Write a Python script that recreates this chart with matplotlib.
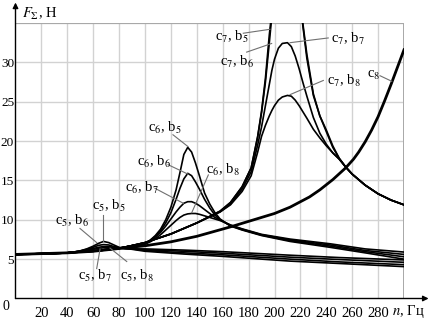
import matplotlib
matplotlib.use("Agg")
from matplotlib import pyplot as plt

plt.rcParams["font.family"] = ["Liberation Serif", "DejaVu Serif"]
plt.rcParams["mathtext.fontset"] = "stix"

# --- data: n [Hz] -> F [N] ---
n_c5 = [0, 20, 30, 40, 45, 50, 55, 60, 64, 68, 72, 76, 80, 85, 90, 100, 130, 160, 212, 250, 300]
f_c5b5 = [5.6, 5.65, 5.7, 5.8, 5.9, 6.05, 6.3, 6.65, 7.0, 7.25, 7.1, 6.8, 6.5, 6.35, 6.25, 6.0, 5.65, 5.35, 4.75, 4.45, 4.05]
f_c5b6 = [5.6, 5.65, 5.7, 5.8, 5.9, 6.05, 6.25, 6.5, 6.75, 6.85, 6.8, 6.6, 6.45, 6.35, 6.3, 6.1, 5.8, 5.55, 5.0, 4.65, 4.3]
f_c5b7 = [5.6, 5.65, 5.7, 5.8, 5.9, 6.0, 6.2, 6.35, 6.5, 6.6, 6.6, 6.5, 6.4, 6.35, 6.3, 6.2, 6.0, 5.75, 5.25, 4.95, 4.6]
f_c5b8 = [5.6, 5.65, 5.7, 5.8, 5.9, 6.0, 6.15, 6.25, 6.35, 6.45, 6.45, 6.45, 6.4, 6.35, 6.3, 6.3, 6.15, 5.95, 5.5, 5.2, 4.9]

n_c6 = [0, 40, 60, 80, 90, 100, 104, 108, 112, 116, 120, 124, 127, 130, 133, 136, 139, 142, 146, 150, 154, 158, 166, 175, 190, 212, 243, 270, 300]
f_c6b5 = [5.6, 5.8, 6.05, 6.4, 6.7, 7.0, 7.4, 8.0, 8.8, 10.0, 11.6, 13.8, 16.0, 18.3, 19.2, 18.6, 17.2, 15.6, 13.4, 12.0, 10.9, 10.1, 9.2, 8.7, 8.0, 7.25, 6.5, 5.8, 5.0]
f_c6b6 = [5.6, 5.8, 6.05, 6.4, 6.7, 7.0, 7.4, 7.9, 8.6, 9.6, 10.9, 12.6, 14.0, 15.2, 15.9, 15.6, 14.8, 13.9, 12.6, 11.5, 10.6, 10.0, 9.25, 8.75, 8.05, 7.35, 6.65, 5.95, 5.3]
f_c6b7 = [5.6, 5.8, 6.05, 6.4, 6.7, 6.95, 7.3, 7.8, 8.4, 9.2, 10.1, 11.0, 11.6, 12.1, 12.3, 12.3, 12.1, 11.8, 11.3, 10.8, 10.3, 10.0, 9.3, 8.8, 8.1, 7.45, 6.8, 6.1, 5.6]
f_c6b8 = [5.6, 5.8, 6.05, 6.4, 6.7, 6.9, 7.2, 7.6, 8.1, 8.7, 9.3, 9.9, 10.3, 10.6, 10.75, 10.8, 10.8, 10.7, 10.5, 10.3, 10.1, 9.9, 9.35, 8.85, 8.15, 7.55, 6.95, 6.3, 5.9]

n_c7 = [0, 40, 60, 80, 100, 120, 140, 158, 166, 175, 182, 187, 190, 193, 196, 198, 200, 203, 206, 210, 213, 216, 219, 222, 225, 230, 235, 240, 245, 250, 255, 260, 270, 280, 290, 300]
f_c7b5 = [5.6, 5.8, 6.0, 6.35, 7.1, 8.2, 9.6, 11.1, 12.2, 14.2, 16.6, 20.5, 23.6, 27.5, 32.5, 36, 40, 46, 52, 56, 52, 45, 39, 34.5, 30.5, 25.8, 23.2, 21.4, 19.4, 17.8, 16.7, 15.8, 14.4, 13.3, 12.5, 11.9]
f_c7b6 = [5.6, 5.8, 6.0, 6.35, 7.1, 8.2, 9.6, 11.1, 12.2, 14.2, 16.6, 20.6, 23.8, 28.0, 33.5, 36.5, 39, 42, 44, 45, 43.5, 41, 38, 34.8, 31.0, 26.0, 23.2, 21.2, 19.2, 17.8, 16.7, 15.8, 14.4, 13.3, 12.5, 11.9]
f_c7b7 = [5.6, 5.8, 6.0, 6.35, 7.1, 8.2, 9.6, 11.0, 12.0, 13.9, 16.1, 19.5, 21.8, 24.5, 27.2, 29.0, 30.4, 31.8, 32.4, 32.5, 32.0, 30.8, 29.2, 27.4, 25.7, 23.0, 21.0, 19.6, 18.5, 17.7, 16.7, 15.8, 14.4, 13.3, 12.5, 11.9]
f_c7b8 = [5.6, 5.8, 6.0, 6.35, 7.1, 8.2, 9.6, 11.0, 11.9, 13.6, 15.6, 18.6, 20.6, 22.0, 23.2, 23.9, 24.5, 25.2, 25.6, 25.8, 25.7, 25.2, 24.5, 23.7, 22.9, 21.5, 20.4, 19.4, 18.5, 17.7, 16.7, 15.8, 14.4, 13.3, 12.5, 11.9]

n_c8 = [0, 40, 60, 80, 100, 120, 140, 166, 180, 200, 212, 227, 235, 245, 255, 261, 265, 270, 275, 280, 285, 290, 295, 300]
f_c8 = [5.6, 5.8, 6.0, 6.35, 6.7, 7.2, 7.9, 9.1, 9.8, 10.8, 11.6, 12.9, 13.8, 15.1, 16.6, 17.7, 18.6, 19.9, 21.4, 23.1, 25.1, 27.2, 29.4, 31.6]

# curve labels: text, label position, leader start, leader end
labels = [
    (r"c$_5$, b$_5$", (59, 11.8), (67.8, 10.6), (67.8, 7.3)),
    (r"c$_5$, b$_6$", (30.5, 9.9), (49.8, 8.9), (62.7, 7.1)),
    (r"c$_5$, b$_7$", (48.3, 2.9), (62.7, 3.8), (65.3, 6.3)),
    (r"c$_5$, b$_8$", (80.7, 2.9), (85.9, 4.7), (73, 6.4)),
    (r"c$_6$, b$_5$", (102.3, 21.7), (121.6, 20.8), (133.2, 19.3)),
    (r"c$_6$, b$_6$", (93.8, 17.4), (117.8, 17.0), (133.2, 15.8)),
    (r"c$_6$, b$_7$", (84.6, 14.1), (107.7, 14.0), (129.6, 12.1)),
    (r"c$_6$, b$_8$", (147.1, 16.3), (148.9, 15.7), (136.1, 10.9)),
    (r"c$_7$, b$_5$", (154, 33.2), (175.9, 33.7), (196.5, 34.2)),
    (r"c$_7$, b$_6$", (158, 30.1), (178.5, 31.3), (197.8, 32.4)),
    (r"c$_7$, b$_7$", (243.6, 33.0), (241.5, 33.1), (212, 32.5)),
    (r"c$_7$, b$_8$", (240.5, 27.7), (237.7, 27.7), (212, 25.9)),
    (r"c$_8$", (271.4, 28.3), (281.5, 28.3), (290.5, 27.6)),
]

fig = plt.figure(figsize=(4.31, 3.19), dpi=100)
ax = fig.add_axes([15.5 / 431, 20.5 / 319, 388.5 / 431, 275.5 / 319])
ax.set_xlim(0, 300)
ax.set_ylim(0, 35)
for s in ax.spines.values():
    s.set_visible(False)

# grid
for x in range(20, 300, 20):
    ax.axvline(x, color="#d2d2d2", lw=1.0, zorder=0)
for y in range(5, 35, 5):
    ax.axhline(y, color="#d2d2d2", lw=1.0, zorder=0)
ax.axvline(300, color="#a8a8a8", lw=1.4, zorder=0)
ax.axhline(35, color="#a8a8a8", lw=1.6, zorder=0)

# curves
for f in [f_c5b5, f_c5b6, f_c5b7, f_c5b8]:
    ax.plot(n_c5, f, color="black", lw=1.2)
for f in [f_c6b5, f_c6b6, f_c6b7, f_c6b8]:
    ax.plot(n_c6, f, color="black", lw=1.2)
for f in [f_c7b5, f_c7b6, f_c7b7, f_c7b8]:
    ax.plot(n_c7, f, color="black", lw=1.2)
ax.plot(n_c8, f_c8, color="black", lw=2.0)

# labels with leaders
for txt, pos, p0, p1 in labels:
    ax.text(pos[0], pos[1], txt, fontsize=10.5, ha="left", va="center")
    ax.plot([p0[0], p1[0]], [p0[1], p1[1]], color="#707070", lw=0.8)

# axes with arrows
ax.annotate("", xy=(319, 0), xytext=(0, 0), annotation_clip=False,
            arrowprops=dict(arrowstyle="-|>", color="black", lw=1.0, mutation_scale=8, shrinkA=0, shrinkB=0))
ax.annotate("", xy=(0, 37.6), xytext=(0, 0), annotation_clip=False,
            arrowprops=dict(arrowstyle="-|>", color="black", lw=1.0, mutation_scale=8, shrinkA=0, shrinkB=0))

ax.set_xticks(range(20, 281, 20))
ax.set_yticks(range(5, 31, 5))
ax.tick_params(length=0)
ax.tick_params(axis="x", pad=6, labelsize=10.5)
ax.tick_params(axis="y", pad=1, labelsize=9.5)
ax.text(-5, -1.05, "0", fontsize=10, ha="right", va="center")
ax.text(291, -1.7, r"$n$, Гц", fontsize=10.5, ha="left", va="center")
ax.text(5, 35.7, r"$F_{\Sigma}$, Н", fontsize=10.5, ha="left", va="baseline")

fig.savefig("out.png", dpi=100)
